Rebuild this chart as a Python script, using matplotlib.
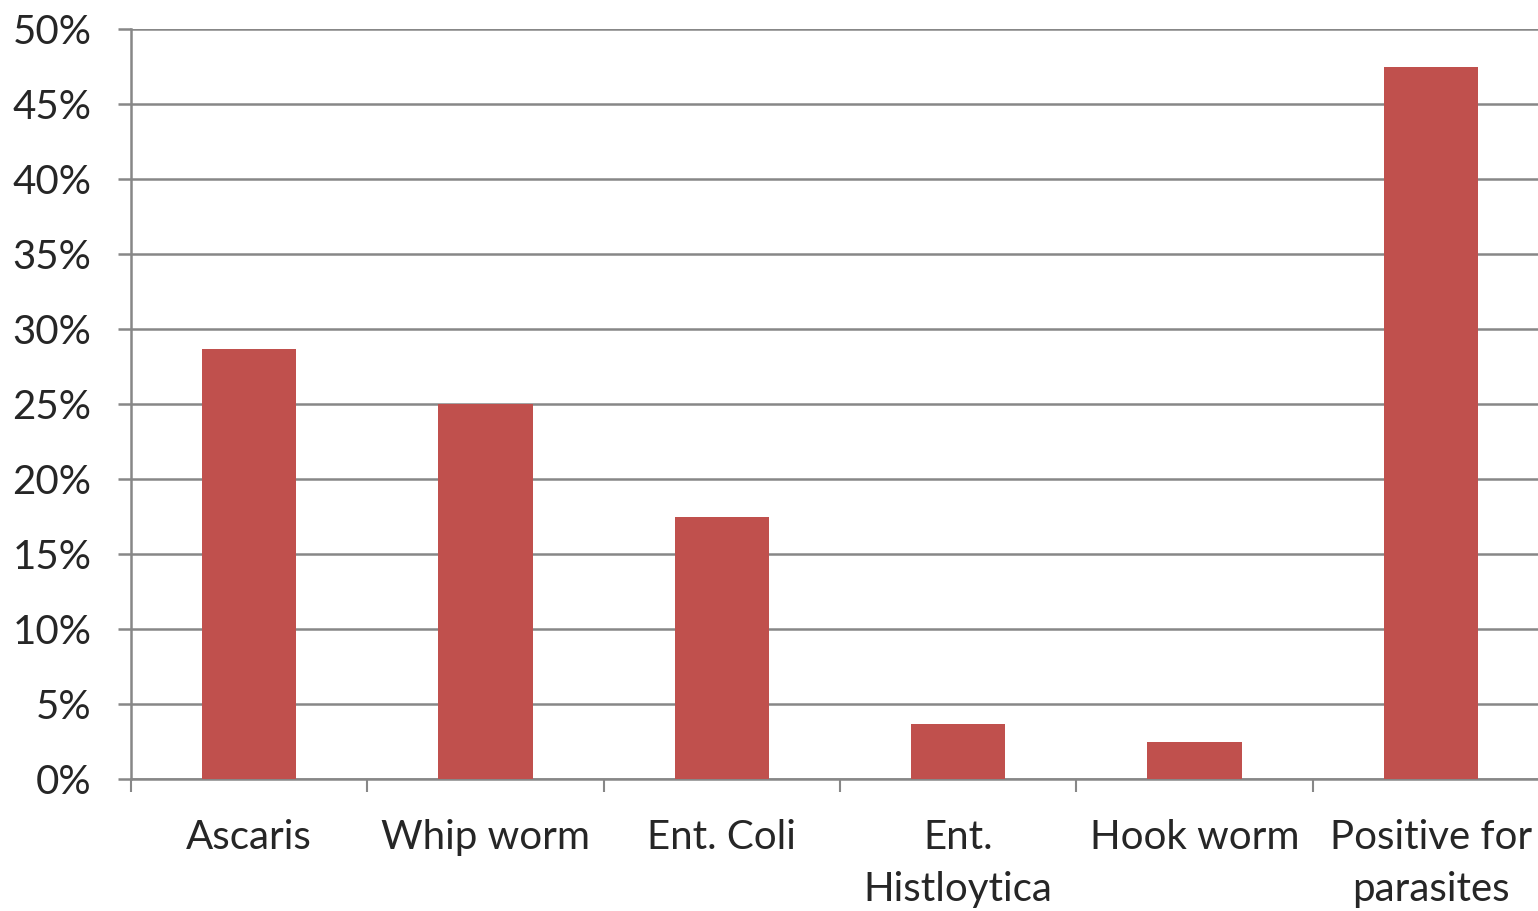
import matplotlib
matplotlib.use("Agg")
import matplotlib.pyplot as plt
import numpy as np
from matplotlib.ticker import FuncFormatter, MultipleLocator

plt.rcParams["font.family"] = ["Lato", "DejaVu Sans"]

categories = ["Ascaris", "Whip worm", "Ent. Coli", "Ent.\nHistloytica", "Hook worm", "Positive for\nparasites"]
prevalence = [28.7, 25.0, 17.5, 3.7, 2.5, 47.5]

BAR_COLOR = "#C0504D"
LINE_COLOR = "#878787"
TEXT_COLOR = "#262626"

fig = plt.figure(figsize=(15.38, 9.11), dpi=100)
ax = fig.add_axes([131 / 1538, 1 - 779 / 911, 1418 / 1538, 750 / 911])

x = np.arange(len(categories))
ax.bar(x, prevalence, width=0.4, color=BAR_COLOR, zorder=3)

ax.set_xlim(-0.5, len(categories) - 0.5)
ax.set_ylim(0, 50)
ax.yaxis.set_major_locator(MultipleLocator(5))
ax.yaxis.set_major_formatter(FuncFormatter(lambda v, _: f"{v:.0f}%"))
ax.grid(True, axis="y", color=LINE_COLOR, linewidth=1.8, zorder=0)

# category labels at centres, tick marks at the boundaries
ax.set_xticks(x)
ax.set_xticklabels(categories, linespacing=1.5)
ax.set_xticks(np.arange(len(categories) + 1) - 0.5, minor=True)
ax.tick_params(axis="x", which="major", length=0, pad=29, labelsize=29, labelcolor=TEXT_COLOR)
ax.tick_params(axis="x", which="minor", length=9, width=1.5, color=LINE_COLOR)
ax.tick_params(axis="y", length=9.5, width=1.8, color=LINE_COLOR, pad=19, labelsize=29, labelcolor=TEXT_COLOR)

for side in ("top", "right"):
    ax.spines[side].set_visible(False)
for side in ("left", "bottom"):
    ax.spines[side].set_color(LINE_COLOR)
    ax.spines[side].set_linewidth(1.8)

fig.savefig("out.png", dpi=100)
